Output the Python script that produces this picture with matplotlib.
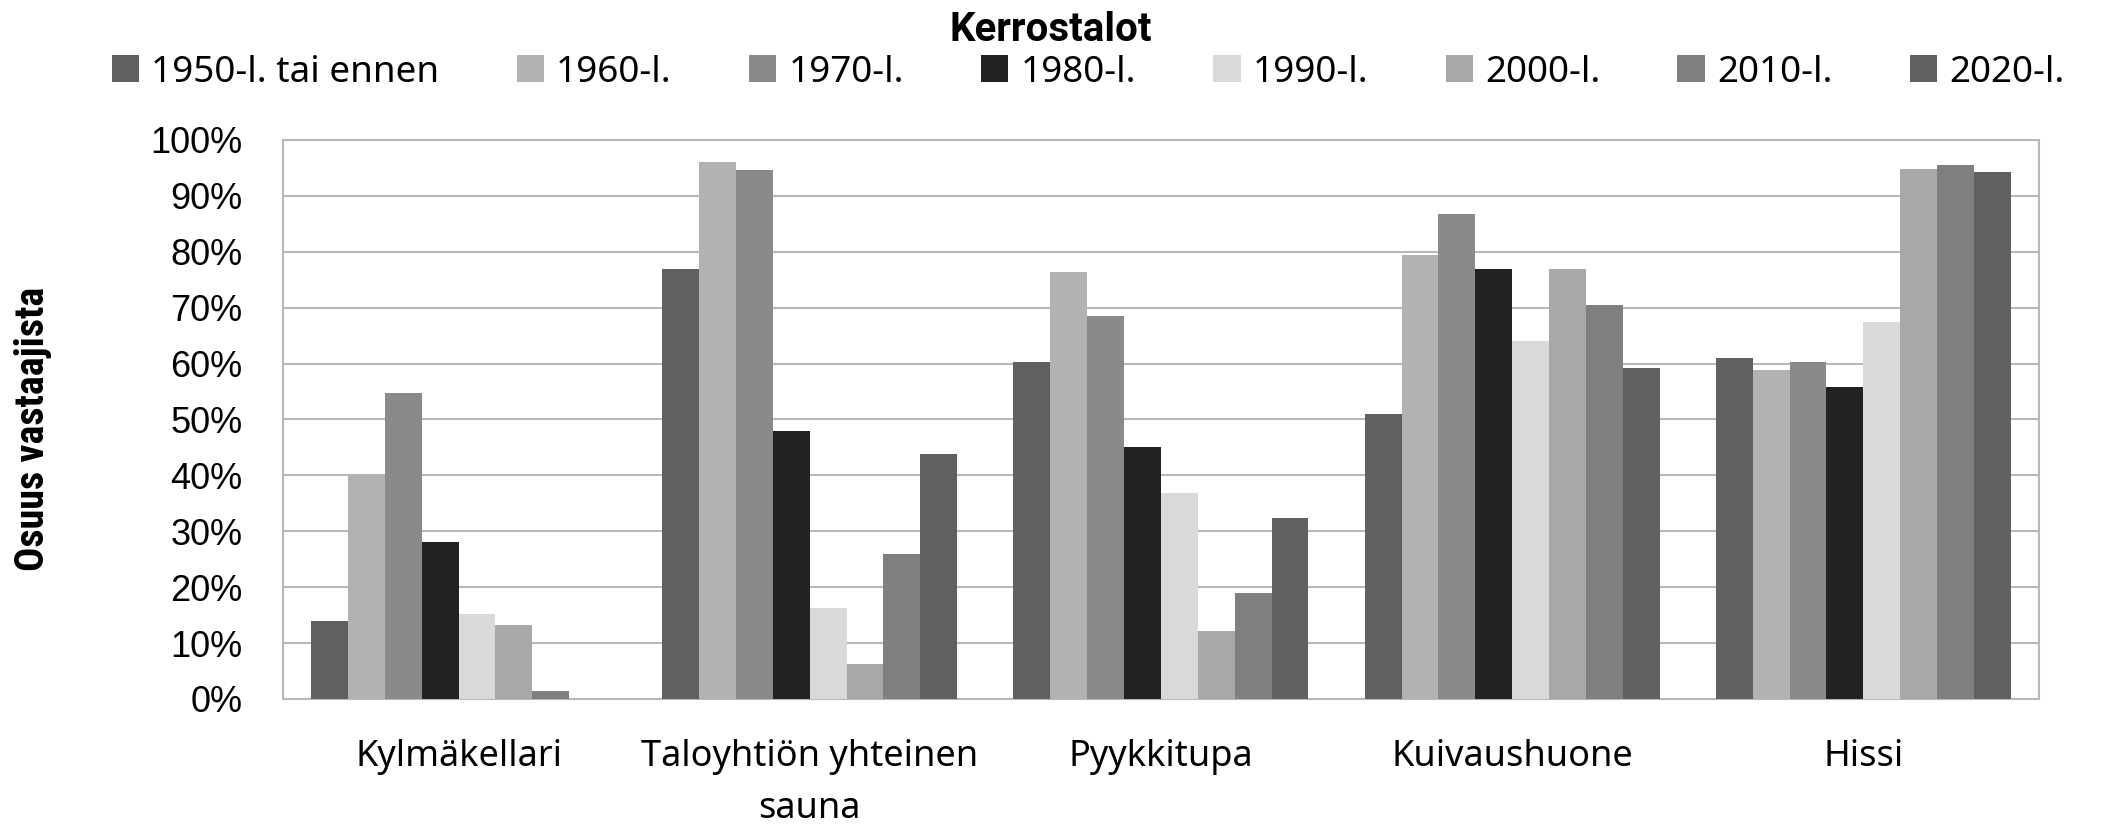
import numpy as np
import matplotlib.pyplot as plt
from matplotlib.ticker import PercentFormatter

# ---- data ----
categories = ['Kylmäkellari', 'Taloyhtiön yhteinen\nsauna', 'Pyykkitupa', 'Kuivaushuone', 'Hissi']
decades = ['1950-l. tai ennen', '1960-l.', '1970-l.', '1980-l.', '1990-l.', '2000-l.', '2010-l.', '2020-l.']
v1950 = [14.0, 77.0, 60.2, 51.0, 61.0]
v1960 = [40.0, 96.0, 76.3, 79.4, 58.8]
v1970 = [54.8, 94.6, 68.5, 86.7, 60.2]
v1980 = [28.0, 47.9, 45.0, 77.0, 55.8]
v1990 = [15.2, 16.3, 36.8, 64.0, 67.4]
v2000 = [13.2, 6.3, 12.2, 77.0, 94.9]
v2010 = [1.4, 25.9, 18.9, 70.5, 95.6]
v2020 = [0.0, 43.8, 32.4, 59.2, 94.2]
series = [v1950, v1960, v1970, v1980, v1990, v2000, v2010, v2020]
colors = ['#606060', '#b2b2b2', '#8a8a8a', '#222222', '#d9d9d9', '#a8a8a8', '#7f7f7f', '#606060']

# fontit
SANS = ['Noto Sans', 'DejaVu Sans']
BOLD = ['Roboto', 'DejaVu Sans']
NARROW = ['Roboto Condensed', 'DejaVu Sans']
TICKS = ['Liberation Sans', 'DejaVu Sans']

fig = plt.figure(figsize=(21.02, 8.24), dpi=100)
ax = fig.add_axes([0.1346, 0.1517, 0.8354, 0.6784])

x = np.arange(len(categories))
n = len(series)
w = 0.84 / n
for i, (vals, c, lab) in enumerate(zip(series, colors, decades)):
    ax.bar(x - 0.42 + w * (i + 0.5), vals, width=w, color=c, label=lab, zorder=3)

ax.set_xlim(-0.5, len(categories) - 0.5)
ax.set_ylim(0, 100)
ax.set_yticks(np.arange(0, 101, 10))
ax.yaxis.set_major_formatter(PercentFormatter(decimals=0))
ax.grid(axis='y', color='#b8b8b8', linewidth=1.5, zorder=0)
for s in ax.spines.values():
    s.set_color('#b8b8b8')
    s.set_linewidth(1.5)
ax.tick_params(axis='both', length=0)
ax.tick_params(axis='y', pad=29, labelsize=26)
for t in ax.get_yticklabels():
    t.set_family(TICKS)
ax.set_xticks(x)
ax.set_xticklabels(categories, fontsize=26, family=SANS, linespacing=1.58)
ax.tick_params(axis='x', pad=29)

fig.text(0.5, 0.964, 'Kerrostalot', ha='center', va='center', fontsize=29,
         fontweight='bold', family=BOLD)
fig.text(0.0155, 0.479, 'Osuus vastaajista', rotation=90, ha='center', va='center',
         fontsize=29, fontweight='bold', family=NARROW)

leg = fig.legend(loc='center', bbox_to_anchor=(0.5176, 0.912), ncol=8, frameon=False,
                 prop={'family': SANS, 'size': 26.5}, handlelength=0.74, handleheight=0.74,
                 handletextpad=0.33, columnspacing=2.1, borderaxespad=0)

fig.savefig('out.png', dpi=100)
